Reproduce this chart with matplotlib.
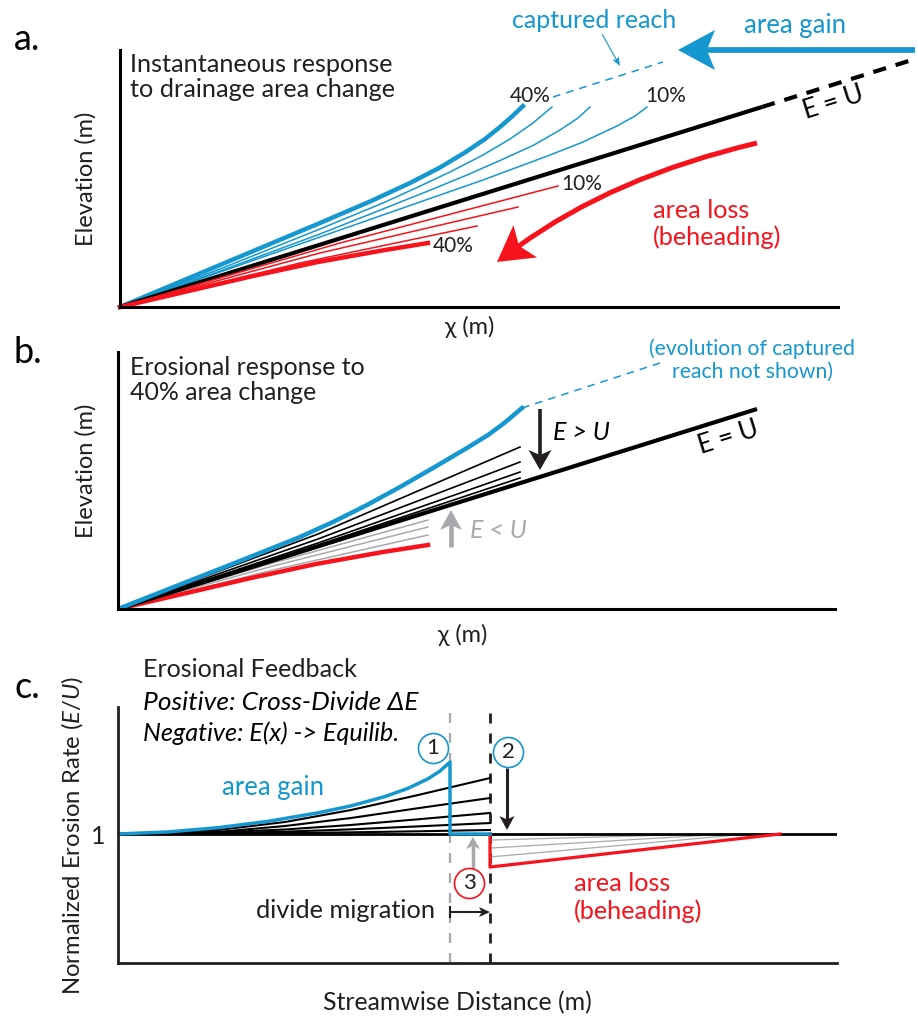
import numpy as np
import matplotlib
matplotlib.use("Agg")
import matplotlib.pyplot as plt
from matplotlib.patches import Polygon, PathPatch
from matplotlib.lines import Line2D
from matplotlib.path import Path
from matplotlib.transforms import IdentityTransform

plt.rcParams['font.family'] = ['Lato', 'DejaVu Sans']
plt.rcParams['mathtext.fontset'] = 'custom'
plt.rcParams['mathtext.rm'] = 'Lato'
plt.rcParams['mathtext.it'] = 'Lato:italic'

BLUE = '#1597cf'
RED = '#f7131c'
GRAY = '#a7a9ac'
DARK = '#231f20'

# ---- panel a: chi-elevation profiles right after the area change ----
chi_eq_a = [0, 642]
z_eq_a = [0, 200]
chi_eq_ext_a = [642, 795]
z_eq_ext_a = [200, 248]

gain_chi_a = [[0, 100, 200, 250, 290, 320, 345, 365, 380, 392, 403],
              [0, 100, 200, 263, 297, 330, 363, 390, 413, 432],
              [0, 100, 200, 263, 313, 347, 380, 413, 440, 458, 470],
              [0, 100, 200, 300, 363, 430, 463, 497, 515, 527]]
gain_z_a = [[0, 42, 84, 105.5, 124, 139.5, 154.5, 168, 180, 190.5, 201],
            [0, 38, 78, 104, 119.5, 135, 152, 168, 184, 200],
            [0, 36, 73, 98, 118, 132, 146.5, 161.5, 177, 189, 200],
            [0, 35, 70, 105, 127, 152, 165, 181, 191, 200]]

loss_chi_a = [[0, 133, 198, 265, 308],
              [0, 180, 357],
              [0, 200, 398],
              [0, 220, 438]]
loss_z_a = [[0, 31, 45, 57, 64],
            [0, 44, 81],
            [0, 54, 100],
            [0, 64, 121]]

captured_chi_a = [433, 543]
captured_z_a = [210, 245]

# ---- panel b: transient adjustment for 40 % change ----
chi_eq_b = [0, 639]
z_eq_b = [0, 200]
gain_chi_b = [0, 132, 182, 215, 249, 282, 315, 349, 370, 385, 397, 404]
gain_z_b = [0, 52, 72, 87, 104, 122, 141, 161, 174, 185, 195, 201]
captured_chi_b = [404, 542]
captured_z_b = [201, 246]
relax_chi_b = [0, 200, 402]
relax_z_b = [[0, 75, 162], [0, 70, 147], [0, 66, 137], [0, 64, 131]]
recover_chi_b = [0, 155, 310]
recover_z_b = [[0, 39, 74], [0, 43, 82], [0, 46, 89]]
loss_chi_b = [0, 133, 198, 265, 310]
loss_z_b = [0, 31, 45, 57, 64]

# ---- panel c: normalized erosion rate along the stream ----
old_divide = 332
new_divide = 372
eq_x_c = [0, 719]
eq_e_c = [1, 1]
gain_x_c = [0, 50, 100, 150, 200, 233, 267, 290, 310, 322, 332, 332, 372]
gain_e_c = [1.0, 1.016, 1.049, 1.098, 1.164, 1.218, 1.29, 1.354, 1.428, 1.488, 1.558, 1.0, 1.0]
relax_x_c = [0, 100, 167, 233, 300, 372]
relax_e_c = [[1.0, 1.031, 1.093, 1.186, 1.302, 1.434],
             [1.0, 1.016, 1.062, 1.124, 1.200, 1.279],
             [1.0, 1.012, 1.035, 1.070, 1.114, 1.163],
             [1.0, 1.006, 1.018, 1.036, 1.059, 1.085],
             [1.0, 1.002, 1.007, 1.013, 1.021, 1.031]]
loss_x_c = [372, 372, 662]
loss_e_c = [1.0, 0.744, 1.0]
recover_start_c = [0.953, 0.891, 0.822]
recover_end_x_c = [590, 610, 630]

fig = plt.figure(figsize=(9.18, 10.17), dpi=100)
W, H = 918, 1017


def panel(left, top, right, bottom, lw=2.2, color='black'):
    ax = fig.add_axes([left / W, 1 - bottom / H, (right - left) / W, (bottom - top) / H])
    for s in ['top', 'right']:
        ax.spines[s].set_visible(False)
    for s in ['left', 'bottom']:
        ax.spines[s].set_linewidth(lw)
        ax.spines[s].set_color(color)
    ax.set_xticks([])
    ax.set_yticks([])
    ax.patch.set_alpha(0)
    return ax


def head(ax, base, tip, color, length, width, notch=0.25):
    # stealth arrowhead, built in pixels so it keeps its shape on any axes scaling
    p0 = ax.transData.transform(base)
    p1 = ax.transData.transform(tip)
    u = (p1 - p0) / np.hypot(*(p1 - p0))
    n = np.array([-u[1], u[0]])
    b = p1 - u * length
    pts = [p1, b + n * width / 2, p1 - u * length * (1 - notch), b - n * width / 2]
    ax.add_patch(Polygon(pts, closed=True, fc=color, ec='none',
                         transform=IdentityTransform(), clip_on=False, zorder=6))
    return p1 - u * length * (1 - notch - 0.05)


def arrow(ax, tail, tip, color, lw, length, width, notch=0.25):
    end = head(ax, tail, tip, color, length, width, notch)
    p0 = ax.transData.transform(tail)
    ax.add_line(Line2D([p0[0], end[0]], [p0[1], end[1]], color=color, lw=lw,
                       solid_capstyle='butt', transform=IdentityTransform(),
                       clip_on=False, zorder=6))


# ================= a =================
ax = panel(120, 50, 838, 307)
ax.set_xlim(0, 718)
ax.set_ylim(0, 257)
for i in range(1, 4):
    ax.plot(gain_chi_a[i], gain_z_a[i], color=BLUE, lw=1.1, clip_on=False)
ax.plot(gain_chi_a[0], gain_z_a[0], color=BLUE, lw=3.2, clip_on=False)
ax.plot(chi_eq_a, z_eq_a, color='black', lw=3, solid_capstyle='butt', clip_on=False)
ax.plot(chi_eq_ext_a, z_eq_ext_a, color='black', lw=3, ls=(0, (3.2, 2.4)), clip_on=False)
for i in range(1, 4):
    ax.plot(loss_chi_a[i], loss_z_a[i], color=RED, lw=1.1, clip_on=False)
ax.plot(loss_chi_a[0], loss_z_a[0], color=RED, lw=3.2, clip_on=False)
ax.plot(captured_chi_a, captured_z_a, color=BLUE, lw=1.1, ls=(0, (5, 4)), clip_on=False)

ax.text(410, 211, '40%', fontsize=15, color=DARK, ha='center', va='center')
ax.text(546, 211, '10%', fontsize=15, color=DARK, ha='center', va='center')
ax.text(462, 123, '10%', fontsize=15, color=DARK, ha='center', va='center')
ax.text(333, 61, '40%', fontsize=15, color=DARK, ha='center', va='center')
ax.text(713, 204, 'E = U', fontsize=18.5, color='black', ha='center', va='center',
        rotation=17.3, rotation_mode='anchor')
ax.text(474, 287, 'captured reach', fontsize=18, color=BLUE, ha='center', va='center')
ax.text(675, 282, 'area gain', fontsize=18.5, color=BLUE, ha='center', va='center')
ax.text(533, 83, 'area loss\n(beheading)', fontsize=18.2, color=RED, ha='left',
        va='center', linespacing=1.2)
ax.text(10, 230, 'Instantaneous response\nto drainage area change', fontsize=18.2,
        color=DARK, ha='left', va='center', linespacing=1.15)

arrow(ax, (795, 257), (558, 257), BLUE, 4.1, 37, 40, notch=0.22)
arrow(ax, (482, 273), (500, 241), BLUE, 0.8, 9, 7, notch=0.2)

# curved beheading arrow
S, C, T = (637, 164), (493, 130), (377, 45)
back = head(ax, C, T, RED, 35, 40, notch=0.22)
back = ax.transData.inverted().transform(back)
ax.add_patch(PathPatch(Path([S, C, back], [Path.MOVETO, Path.CURVE3, Path.CURVE3]),
                       fc='none', ec=RED, lw=3.6, clip_on=False, capstyle='butt'))

ax.set_xlabel('χ (m)', fontsize=17, color=DARK)
ax.xaxis.set_label_coords(350 / 718, -20 / 257)
ax.xaxis.label.set_va('center')
ax.set_ylabel('Elevation (m)', fontsize=17, color=DARK)
ax.yaxis.set_label_coords(-34 / 718, 128 / 257)
ax.yaxis.label.set_va('center')

# ================= b =================
ax = panel(118, 352, 835, 609)
ax.set_xlim(0, 717)
ax.set_ylim(0, 257)
for z in recover_z_b:
    ax.plot(recover_chi_b, z, color=GRAY, lw=1.1)
ax.plot(loss_chi_b, loss_z_b, color=RED, lw=3.2)
for z in relax_z_b:
    ax.plot(relax_chi_b, z, color='black', lw=1.2)
ax.plot(chi_eq_b, z_eq_b, color='black', lw=3, solid_capstyle='butt')
ax.plot(gain_chi_b, gain_z_b, color=BLUE, lw=3.2)
ax.plot(captured_chi_b, captured_z_b, color=BLUE, lw=1.1, ls=(0, (5, 4)), clip_on=False)

arrow(ax, (422, 200), (422, 139), DARK, 2.6, 20, 23)
arrow(ax, (333, 62), (333, 99), GRAY, 3.3, 20, 22)
ax.text(435, 177, 'E > U', fontsize=18, style='italic', color='black', ha='left', va='center')
ax.text(352, 79, 'E < U', fontsize=18, style='italic', color=GRAY, ha='left', va='center')
ax.text(610, 171, 'E = U', fontsize=18.5, color='black', ha='center', va='center',
        rotation=17.3, rotation_mode='anchor')
ax.text(634, 249, '(evolution of captured\nreach not shown)', fontsize=15.2, color=BLUE,
        ha='center', va='center', linespacing=1.2)
ax.text(12, 229, 'Erosional response to\n40% area change', fontsize=17.9, color=DARK,
        ha='left', va='center', linespacing=1.15)

ax.set_xlabel('χ (m)', fontsize=17, color=DARK)
ax.xaxis.set_label_coords(345 / 717, -26 / 257)
ax.xaxis.label.set_va('center')
ax.set_ylabel('Elevation (m)', fontsize=17, color=DARK)
ax.yaxis.set_label_coords(-32 / 717, 138 / 257)
ax.yaxis.label.set_va('center')

# ================= c =================
ax = panel(118, 707, 837, 963, lw=2, color=DARK)
ax.set_xlim(0, 719)
ax.set_ylim(0, 256 / 129)
ytop = 256 / 129
ax.plot([old_divide, old_divide], [0, ytop], color=GRAY, lw=1.6, ls=(0, (4.5, 4.5)), clip_on=False)
ax.plot([new_divide, new_divide], [0, ytop], color=DARK, lw=2, ls=(0, (3.6, 3.6)), clip_on=False)
for xe, e0 in zip(recover_end_x_c, recover_start_c):
    ax.plot([new_divide, xe], [e0, 1], color=GRAY, lw=0.9)
for e in relax_e_c:
    ax.plot(relax_x_c, e, color='black', lw=1.5)
ax.plot(eq_x_c, eq_e_c, color='black', lw=2, solid_capstyle='butt')
ax.plot(loss_x_c, loss_e_c, color=RED, lw=2.3)
ax.plot(gain_x_c, gain_e_c, color=BLUE, lw=2.5)

for x, e, s, c in [(315, 1.667, '1', BLUE), (390, 1.636, '2', BLUE), (351, 0.62, '3', RED)]:
    ax.plot(x, e, 'o', ms=21.6, mfc='white', mec=c, mew=1.2, zorder=7)
    ax.text(x, e, s, fontsize=16, color=DARK, ha='center', va='center', zorder=8)

arrow(ax, (389, 1.512), (389, 1.031), DARK, 2.2, 14, 15)
arrow(ax, (355, 0.736), (355, 0.977), GRAY, 2.5, 12, 14)
arrow(ax, (old_divide, 0.395), (new_divide, 0.395), DARK, 1.5, 11, 10)
ax.plot([old_divide, old_divide], [0.355, 0.435], color=DARK, lw=1.5, zorder=6)

ax.text(317, 0.41, 'divide migration', fontsize=18.3, color=DARK, ha='right', va='center')
ax.text(155, 1.357, 'area gain', fontsize=18.5, color=BLUE, ha='center', va='center')
ax.text(456, 0.508, 'area loss\n(beheading)', fontsize=18.2, color=RED, ha='left',
        va='center', linespacing=1.2)
ax.text(25, 2.279, 'Erosional Feedback', fontsize=18.1, color=DARK, ha='left', va='center')
ax.text(25, 2.023, 'Positive: Cross-Divide ΔE', fontsize=19, style='italic', color='black',
        ha='left', va='center')
ax.text(25, 1.783, 'Negative: E(x) -> Equilib.', fontsize=18.2, style='italic', color='black',
        ha='left', va='center')

ax.set_yticks([1])
ax.set_yticklabels(['1'], fontsize=18, color=DARK)
ax.tick_params(axis='y', length=0, pad=9)
ax.set_xlabel('Streamwise Distance (m)', fontsize=17.9, color=DARK)
ax.xaxis.set_label_coords(339 / 719, -40 / 256)
ax.xaxis.label.set_va('center')
ax.set_ylabel('Normalized Erosion Rate ($\\mathit{E/U}$)', fontsize=17.2, color=DARK)
ax.yaxis.set_label_coords(-46 / 719, 128 / 256)
ax.yaxis.label.set_va('center')

# panel letters
for lab, yb in [('a.', 50), ('b.', 363), ('c.', 698)]:
    fig.text(14 / W, 1 - yb / H, lab, fontsize=26, color='black', va='baseline', ha='left')

fig.savefig('out.png', dpi=100)
